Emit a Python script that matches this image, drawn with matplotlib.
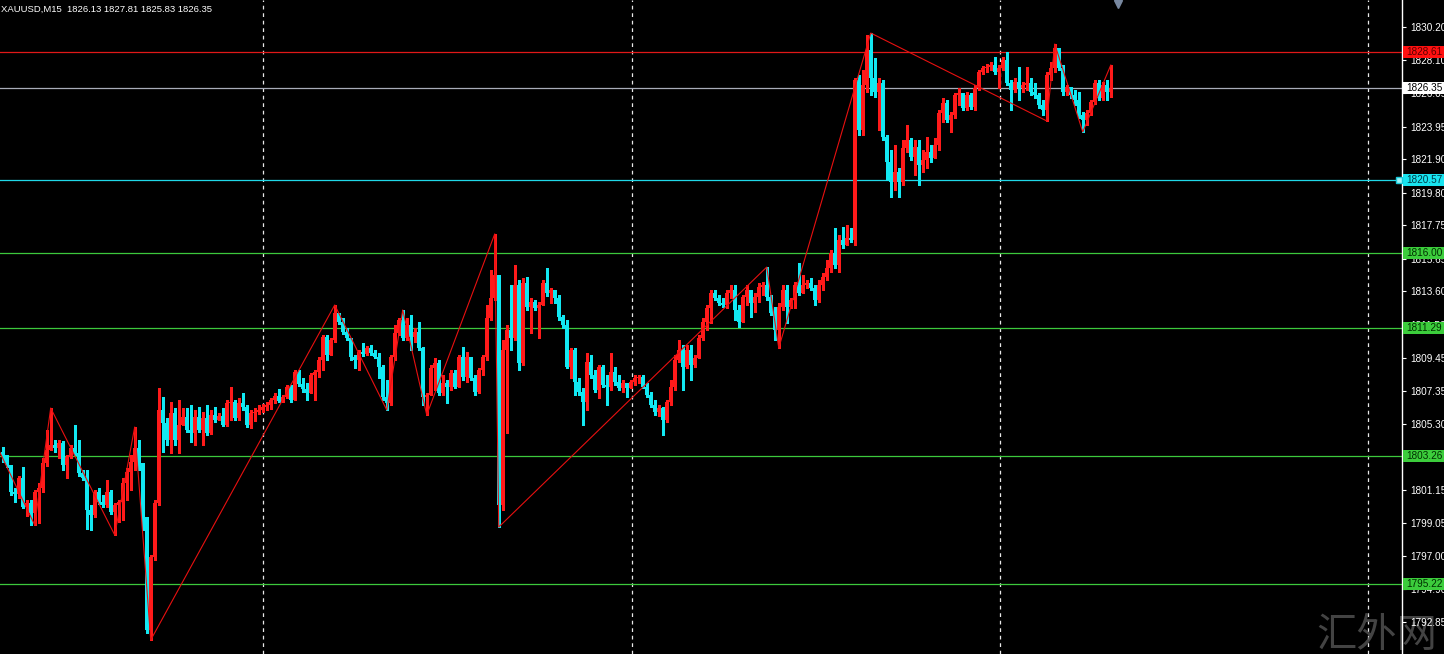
import numpy as np
import matplotlib.pyplot as plt
import matplotlib.transforms as mtransforms
from matplotlib.patches import Rectangle

plt.rcParams['font.family'] = ['Liberation Sans', 'DejaVu Sans']

# ---------------------------------------------------------------------------
# data: XAUUSD M15 bars (open of each bar = previous close)
# ---------------------------------------------------------------------------
title = 'XAUUSD,M15  1826.13 1827.81 1825.83 1826.35'
first_open = 1803.52

close = [
    1803.33, 1802.71, 1801.01, 1800.89, 1801.89, 1800.07, 1800.32, 1799.69, 1801.01, 1801.26,
    1802.83, 1803.65, 1803.96, 1803.77, 1804.08, 1802.71, 1803.21, 1803.77, 1803.46, 1802.20,
    1801.89, 1799.88, 1799.57, 1801.01, 1800.38, 1800.19, 1801.01, 1799.75, 1800.19, 1800.38,
    1801.58, 1802.26, 1802.89, 1803.77, 1802.83, 1799.44, 1792.35, 1796.93, 1800.32, 1806.16,
    1805.34, 1804.27, 1805.97, 1804.27, 1805.22, 1805.72, 1804.90, 1804.71, 1805.72, 1804.90,
    1805.66, 1804.71, 1805.85, 1805.53, 1805.78, 1805.22, 1806.60, 1806.66, 1805.66, 1806.60,
    1806.35, 1805.22, 1805.97, 1806.03, 1806.16, 1806.35, 1806.47, 1806.79, 1807.04, 1806.72,
    1806.97, 1807.60, 1806.79, 1808.54, 1807.79, 1807.48, 1807.22, 1808.35, 1808.54, 1809.30,
    1810.74, 1809.61, 1810.55, 1812.25, 1811.68, 1811.05, 1810.67, 1809.48, 1809.30, 1809.80,
    1809.67, 1810.05, 1809.74, 1809.48, 1808.86, 1806.97, 1806.60, 1809.48, 1810.99, 1811.81,
    1810.67, 1811.49, 1810.74, 1811.05, 1810.05, 1806.97, 1807.10, 1808.79, 1809.11, 1807.22,
    1807.85, 1807.60, 1808.48, 1807.60, 1809.48, 1808.23, 1809.48, 1808.17, 1807.29, 1808.67,
    1809.48, 1811.93, 1813.19, 1814.63, 1800.19, 1809.92, 1811.18, 1810.67, 1814.01, 1809.11,
    1814.13, 1812.62, 1812.94, 1812.56, 1812.75, 1814.13, 1813.50, 1813.69, 1813.19, 1811.99,
    1811.49, 1808.86, 1809.92, 1807.92, 1807.29, 1806.66, 1809.17, 1808.35, 1807.41, 1808.86,
    1807.73, 1807.60, 1808.54, 1807.92, 1807.54, 1807.85, 1807.54, 1807.92, 1808.17, 1808.23,
    1807.60, 1807.10, 1806.47, 1806.03, 1806.28, 1805.53, 1806.66, 1807.60, 1809.30, 1809.92,
    1808.86, 1809.92, 1808.98, 1809.42, 1810.67, 1811.68, 1812.56, 1813.50, 1813.19, 1812.87,
    1812.75, 1813.50, 1813.69, 1812.44, 1811.68, 1813.25, 1813.69, 1812.87, 1813.25, 1813.88,
    1814.01, 1813.25, 1812.25, 1811.18, 1812.62, 1813.69, 1812.62, 1813.06, 1814.01, 1813.50,
    1814.01, 1814.13, 1813.82, 1813.06, 1814.01, 1814.51, 1815.07, 1816.01, 1815.26, 1816.83,
    1816.51, 1816.95, 1816.83, 1826.87, 1823.73, 1826.56, 1828.76, 1826.99, 1826.12, 1826.68,
    1823.29, 1821.72, 1820.47, 1821.10, 1820.47, 1822.60, 1823.11, 1822.04, 1822.67, 1821.54,
    1821.85, 1822.35, 1821.98, 1822.79, 1824.80, 1825.43, 1824.36, 1824.67, 1825.93, 1826.06,
    1825.11, 1825.93, 1825.18, 1826.37, 1827.37, 1827.62, 1827.69, 1827.81, 1827.37, 1827.62,
    1828.13, 1826.68, 1826.25, 1826.75, 1826.37, 1826.56, 1826.68, 1826.12, 1825.93, 1825.30,
    1824.99, 1827.19, 1827.62, 1828.88, 1827.62, 1826.12, 1826.43, 1825.93, 1825.62, 1824.67,
    1824.36, 1824.80, 1825.49, 1826.68, 1825.74, 1826.56, 1826.13, 1826.35,
]

high = [
    1803.83, 1803.34, 1802.64, 1801.26, 1802.01, 1802.58, 1800.51, 1800.51, 1801.14, 1801.58,
    1803.15, 1804.90, 1806.28, 1804.27, 1804.27, 1804.21, 1803.34, 1803.96, 1805.22, 1804.27,
    1802.39, 1802.39, 1800.19, 1801.14, 1801.26, 1800.83, 1801.76, 1801.14, 1800.32, 1800.51,
    1801.89, 1802.52, 1803.34, 1805.09, 1804.27, 1802.71, 1798.31, 1797.06, 1800.51, 1807.54,
    1806.97, 1805.66, 1806.66, 1806.28, 1806.79, 1806.28, 1806.28, 1806.47, 1806.16, 1806.35,
    1806.03, 1806.47, 1806.16, 1806.35, 1805.97, 1806.28, 1806.79, 1807.60, 1806.79, 1806.91,
    1807.22, 1806.47, 1806.16, 1806.28, 1806.47, 1806.54, 1806.66, 1806.91, 1807.22, 1807.48,
    1807.10, 1807.73, 1807.73, 1808.67, 1808.67, 1808.17, 1807.85, 1808.48, 1808.67, 1809.48,
    1810.86, 1810.86, 1810.67, 1812.75, 1812.12, 1811.93, 1811.30, 1810.67, 1809.61, 1809.92,
    1810.36, 1810.17, 1810.23, 1809.92, 1809.74, 1808.98, 1808.04, 1809.61, 1811.49, 1811.93,
    1812.44, 1811.93, 1812.12, 1811.30, 1811.68, 1810.11, 1807.22, 1808.98, 1809.42, 1809.30,
    1808.35, 1808.04, 1808.67, 1808.67, 1809.61, 1810.11, 1809.80, 1808.98, 1808.35, 1808.79,
    1809.61, 1812.75, 1814.95, 1817.21, 1813.69, 1810.55, 1811.49, 1814.01, 1815.26, 1814.32,
    1814.44, 1814.51, 1813.19, 1813.06, 1812.94, 1814.32, 1815.07, 1813.82, 1813.69, 1813.38,
    1812.12, 1811.81, 1810.05, 1810.05, 1808.17, 1807.54, 1809.74, 1809.61, 1808.67, 1808.98,
    1808.98, 1808.35, 1809.74, 1808.86, 1808.35, 1808.04, 1807.85, 1808.04, 1808.35, 1808.35,
    1808.35, 1807.85, 1807.29, 1806.79, 1806.47, 1806.35, 1806.79, 1808.04, 1809.61, 1810.55,
    1810.23, 1810.23, 1810.23, 1809.61, 1810.86, 1811.93, 1812.75, 1813.69, 1813.69, 1813.38,
    1813.19, 1813.69, 1814.01, 1814.01, 1812.75, 1813.38, 1814.01, 1813.69, 1813.50, 1814.13,
    1814.19, 1815.13, 1813.38, 1812.62, 1812.87, 1814.01, 1814.01, 1813.19, 1814.19, 1815.38,
    1814.63, 1814.32, 1814.44, 1814.01, 1814.32, 1814.76, 1815.57, 1816.20, 1817.58, 1817.14,
    1817.64, 1817.77, 1817.58, 1827.00, 1827.19, 1827.50, 1829.70, 1829.82, 1828.26, 1826.99,
    1826.87, 1823.42, 1822.48, 1822.79, 1821.35, 1823.11, 1824.05, 1823.23, 1823.11, 1823.11,
    1822.48, 1823.29, 1822.79, 1823.23, 1824.99, 1825.74, 1825.62, 1824.86, 1826.06, 1826.37,
    1826.06, 1826.12, 1826.06, 1826.56, 1827.50, 1827.75, 1827.88, 1828.00, 1828.32, 1827.81,
    1828.32, 1828.63, 1826.87, 1826.99, 1827.69, 1826.75, 1827.69, 1826.99, 1826.68, 1826.06,
    1825.62, 1827.37, 1828.00, 1829.13, 1828.76, 1827.81, 1826.56, 1826.37, 1826.25, 1826.12,
    1824.86, 1824.99, 1825.62, 1826.87, 1826.87, 1826.75, 1826.87, 1827.81,
]

low = [
    1802.89, 1802.58, 1800.83, 1800.38, 1800.64, 1800.01, 1799.50, 1798.94, 1798.94, 1799.06,
    1801.01, 1802.64, 1803.83, 1803.52, 1803.15, 1802.39, 1801.89, 1803.15, 1803.34, 1802.01,
    1801.76, 1798.69, 1798.62, 1799.44, 1800.26, 1800.07, 1800.07, 1799.63, 1798.31, 1799.13,
    1799.25, 1800.51, 1801.14, 1802.39, 1802.39, 1798.62, 1792.16, 1791.72, 1796.74, 1800.19,
    1803.52, 1803.96, 1803.46, 1803.96, 1803.46, 1805.22, 1804.77, 1804.14, 1803.96, 1804.77,
    1803.96, 1804.59, 1804.65, 1805.40, 1805.53, 1805.15, 1805.15, 1805.53, 1805.53, 1805.53,
    1806.16, 1805.09, 1805.03, 1805.47, 1805.91, 1806.03, 1806.16, 1806.22, 1806.60, 1806.66,
    1806.66, 1806.91, 1806.66, 1806.79, 1807.66, 1807.29, 1806.79, 1807.29, 1806.79, 1808.23,
    1808.67, 1809.30, 1809.80, 1810.42, 1811.56, 1810.93, 1810.55, 1809.30, 1808.79, 1808.67,
    1809.55, 1809.61, 1809.61, 1809.42, 1808.17, 1806.79, 1806.16, 1806.47, 1809.30, 1810.86,
    1810.55, 1810.55, 1809.92, 1810.42, 1809.92, 1806.47, 1805.85, 1807.10, 1807.41, 1807.10,
    1807.10, 1806.60, 1807.41, 1807.54, 1808.04, 1808.04, 1807.92, 1808.04, 1807.10, 1807.22,
    1808.35, 1809.30, 1811.81, 1813.06, 1798.81, 1799.88, 1804.71, 1809.92, 1810.55, 1808.67,
    1808.98, 1812.44, 1810.99, 1812.44, 1810.67, 1812.75, 1813.31, 1812.87, 1812.87, 1811.81,
    1811.30, 1808.79, 1808.17, 1807.10, 1807.10, 1805.22, 1806.16, 1808.17, 1807.29, 1806.91,
    1807.60, 1806.47, 1807.41, 1807.73, 1807.41, 1807.29, 1806.97, 1807.66, 1807.73, 1807.85,
    1807.54, 1806.97, 1806.35, 1805.85, 1805.78, 1804.59, 1805.40, 1806.47, 1807.41, 1809.17,
    1807.41, 1808.79, 1808.04, 1808.86, 1809.48, 1810.55, 1811.18, 1811.62, 1813.06, 1812.75,
    1812.62, 1812.56, 1813.19, 1811.81, 1811.37, 1812.12, 1812.75, 1811.99, 1812.31, 1812.94,
    1813.38, 1813.06, 1812.12, 1810.55, 1810.05, 1812.44, 1811.62, 1812.56, 1812.56, 1813.38,
    1813.69, 1813.82, 1813.69, 1812.75, 1812.94, 1813.69, 1814.32, 1814.82, 1815.07, 1814.82,
    1816.32, 1816.51, 1816.70, 1816.51, 1823.42, 1823.42, 1826.12, 1825.93, 1825.80, 1823.73,
    1823.11, 1820.60, 1819.53, 1819.97, 1819.53, 1820.28, 1822.35, 1821.85, 1820.91, 1820.28,
    1821.10, 1821.35, 1821.72, 1821.98, 1822.48, 1824.23, 1824.23, 1823.61, 1824.49, 1825.30,
    1824.99, 1824.99, 1825.05, 1824.99, 1826.25, 1827.25, 1827.37, 1827.50, 1827.25, 1826.37,
    1827.50, 1826.56, 1824.99, 1826.12, 1825.62, 1826.12, 1826.25, 1825.93, 1825.74, 1825.11,
    1824.67, 1824.30, 1826.87, 1827.37, 1827.50, 1825.93, 1825.93, 1825.74, 1825.30, 1824.49,
    1823.61, 1824.05, 1824.67, 1825.36, 1825.62, 1825.62, 1825.62, 1825.83,
]

# ZigZag indicator pivots (bar index, price)
zz_bar = [-1, 8, 12, 28, 33, 37, 83, 96, 100, 106, 123, 124, 191, 194, 217, 261, 263, 270, 277]
zz_price = [1803.65, 1798.94, 1806.28, 1798.31, 1805.09, 1791.72, 1812.75, 1806.16, 1812.44,
            1805.85, 1817.21, 1798.81, 1815.13, 1810.05, 1829.82, 1824.30, 1829.13, 1823.61,
            1827.81]

# horizontal levels
red_level = 1828.61
bid_level = 1826.35
cyan_level = 1820.57
green_levels = [1816.00, 1811.29, 1803.26, 1795.22]

price_ticks = [1830.20, 1828.10, 1826.05, 1823.95, 1821.90, 1819.80, 1817.75, 1815.65,
               1813.60, 1811.50, 1809.45, 1807.35, 1805.30, 1803.20, 1801.15, 1799.05,
               1797.00, 1794.90, 1792.85]
hidden_ticks = [1803.20]                   # fully covered by the 1803.26 label
separators = [65.1, 157.3, 249.3, 341.3]   # dashed vertical grid, in bars

UP = '#ff1a1a'
DOWN = '#12e8f2'

# ---------------------------------------------------------------------------
W, H = 1444, 654
fig = plt.figure(figsize=(W / 100, H / 100), dpi=100, facecolor='black')
ax = fig.add_axes([0, 0, 1402 / W, 1])
ax.set_facecolor('black')
ax.set_xlim(-0.675, 349.8)
ax.set_ylim(1790.84, 1831.895)

close = np.array(close)
opens = np.concatenate([[first_open], close[:-1]])
high = np.maximum(np.array(high), np.maximum(opens, close))
low = np.minimum(np.array(low), np.minimum(opens, close))
idx = np.arange(len(close))
cols = np.where(close >= opens, UP, DOWN)

# grid separators
for s in separators:
    ax.axvline(s, color='#e8e8e8', lw=0.9, ls=(0, (3, 3)), zorder=1)

# level lines
ax.axhline(red_level, color='#e01818', lw=0.9, zorder=2)
ax.axhline(bid_level, color='#a8acb8', lw=0.9, zorder=2)
ax.axhline(cyan_level, color='#20d8e8', lw=0.9, zorder=2)
for g in green_levels:
    ax.axhline(g, color='#3cc83c', lw=0.9, zorder=2)

# candles
ax.vlines(idx, low, high, colors=cols, lw=0.8, zorder=3, antialiased=False)
body_lo = np.minimum(opens, close)
body_h = np.maximum(np.abs(close - opens), 0.05)
ax.bar(idx, body_h, bottom=body_lo, width=0.78, color=cols, linewidth=0, zorder=3,
       antialiased=False)

# zigzag
ax.plot(zz_bar, zz_price, color='#e81010', lw=0.8, zorder=4)

# right price scale
ax.yaxis.tick_right()
ax.set_yticks(price_ticks)
ax.set_yticklabels(['' if p in hidden_ticks else f'{p:.2f}' for p in price_ticks])
ax.tick_params(axis='y', colors='white', labelsize=7.2, length=3, width=0.8, pad=3)
ax.set_xticks([])
for side in ['top', 'bottom', 'left']:
    ax.spines[side].set_visible(False)
ax.spines['right'].set_color('white')
ax.spines['right'].set_linewidth(1)

# coloured price labels on the scale
trans = mtransforms.blended_transform_factory(fig.transFigure, ax.transData)
box_h = 12 / 15.93
labels = [(red_level, '#ff1010', '#5a0000'),
          (bid_level, '#ffffff', '#000000'),
          (cyan_level, '#18e4f0', '#003c48')]
labels += [(g, '#3ccd3c', '#003000') for g in green_levels]
for lvl, bg, fg in labels:
    ax.add_patch(Rectangle((1403 / W, lvl - box_h / 2), 41 / W, box_h, transform=trans,
                           facecolor=bg, edgecolor='none', clip_on=False, zorder=6))
    ax.text(1406 / W, lvl, f'{lvl:.2f}', transform=trans, color=fg, fontsize=7.2,
            ha='left', va='center', clip_on=False, zorder=7)
ax.plot([1399 / W], [cyan_level], transform=trans, marker='s', ms=4,
        color='#a0f4f8', mec='#18c8d8', clip_on=False, zorder=7)

# title and shift marker
fig.text(1 / W, 1 - 9 / H, title, color='white', fontsize=6.8, ha='left', va='center')
ax.plot([1118 / 1402], [0.994], transform=ax.transAxes, marker='v', ms=6,
        color='#7888a0', clip_on=False, zorder=5)

# watermark
ax.text(1377 / W, 18 / H, '汇外网', transform=fig.transFigure, family=['Noto Sans CJK SC'],
        fontsize=29, color='#555555', alpha=0.8, ha='center', va='center',
        clip_on=False, zorder=1)

fig.savefig('out.png', dpi=100, facecolor='black')
